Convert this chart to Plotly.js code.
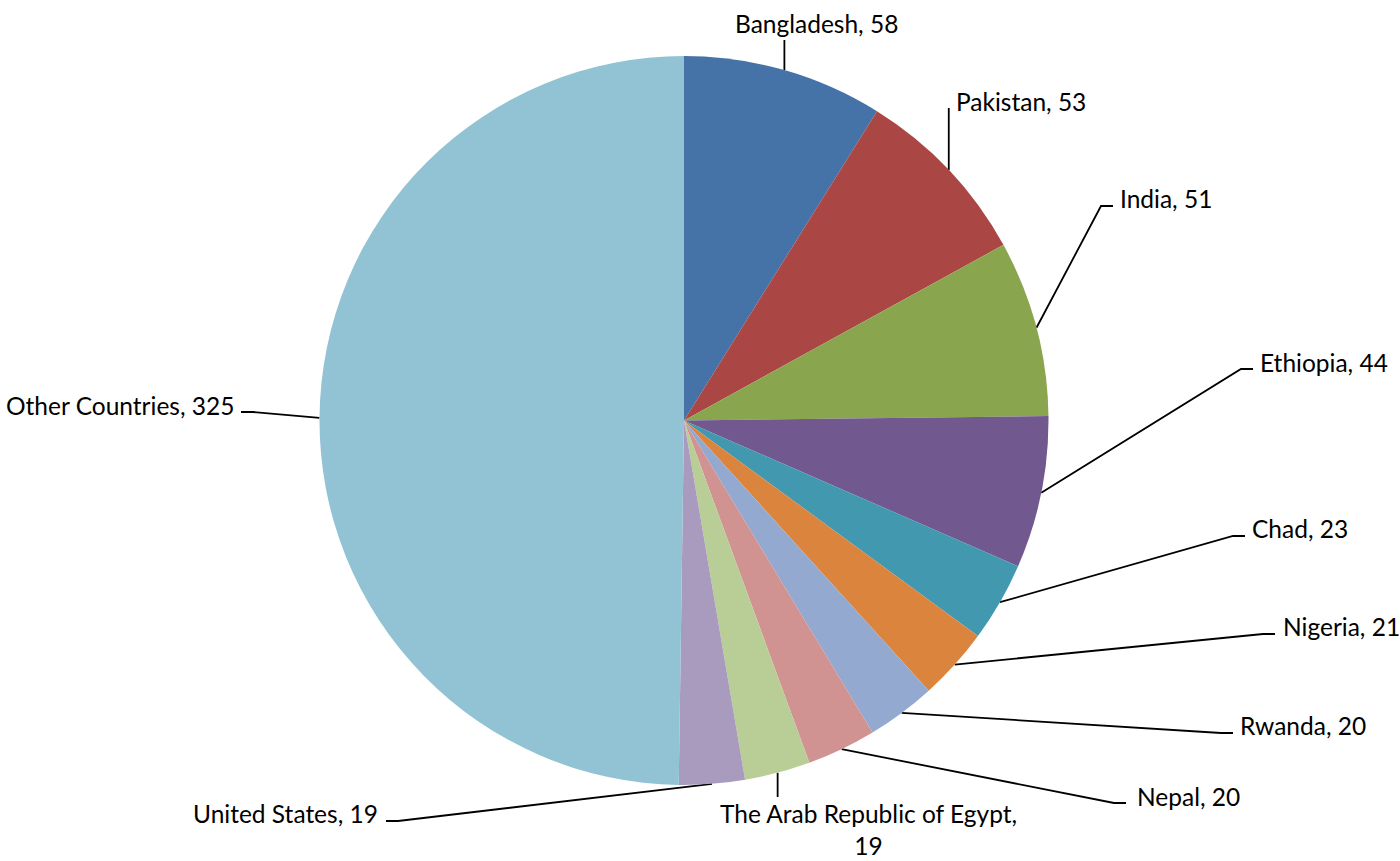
<!DOCTYPE html>
<html>
<head>
<meta charset="utf-8">
<script src="https://cdn.plot.ly/plotly-3.0.1.min.js"></script>
<style>html,body{margin:0;padding:0;background:#fff;}#chart{width:1400px;height:861px;}</style>
</head>
<body>
<div id="chart"></div>
<script>
// ---- data ----
const countries = ["Bangladesh", "Pakistan", "India", "Ethiopia", "Chad", "Nigeria", "Rwanda", "Nepal", "The Arab Republic of Egypt,", "United States", "Other Countries"];
const values = [58, 53, 51, 44, 23, 21, 20, 20, 19, 19, 325];
const colors = ["#4572A7", "#AA4643", "#89A54E", "#71588F", "#4198AF", "#DB843D", "#93A9CF", "#D19392", "#B9CD96", "#A99BBD", "#92C3D5"];

// ---- layout constants (pixels) ----
const W = 1400, H = 861;
const CX = 684, CY = 420.5, R = 364.5;
// label placement: [elbowX (null = straight from slice), elbowY, tail, textX, textY, xanchor, separator]
const labelLayout = [
  [null, 40, 0, 816, 23, 'center', ', '],
  [null, 108, 0, 954, 101, 'left', ', '],
  [1101, 206, 12, 1118, 198, 'left', ', '],
  [1241, 369, 12, 1258, 362, 'left', ', '],
  [1233, 536, 12, 1250, 528, 'left', ', '],
  [1263, 634, 12, 1281, 626, 'left', ', '],
  [1221, 733, 12, 1238, 725, 'left', ', '],
  [1114, 803, 12, 1135, 796, 'left', ', '],
  [null, 797, 0, 868, 829, 'center', '<br>'],
  [398, 821, -12, 380, 813, 'right', ', '],
  [253, 412, -12, 236, 405, 'right', ', ']
];

const total = values.reduce((a, b) => a + b, 0);
const traces = [];
traces.push({
  type: 'pie',
  labels: countries,
  values: values,
  sort: false,
  direction: 'clockwise',
  rotation: 0,
  textinfo: 'none',
  hoverinfo: 'label+value',
  marker: {colors: colors, line: {width: 0}},
  domain: {x: [(CX - R) / W, (CX + R) / W], y: [(H - CY - R) / H, (H - CY + R) / H]},
  showlegend: false
});

const annotations = [];
let cum = 0;
values.forEach((v, i) => {
  const a = (cum + v / 2) / total * 2 * Math.PI;
  cum += v;
  const px = CX + R * Math.sin(a), py = CY - R * Math.cos(a);
  const L = labelLayout[i];
  const ex = L[0] === null ? px : L[0];
  const xs = [px, ex], ys = [py, L[1]];
  if (L[2] !== 0) { xs.push(ex + L[2]); ys.push(L[1]); }
  traces.push({type: 'scatter', mode: 'lines', x: xs, y: ys, xaxis: 'x', yaxis: 'y',
    line: {color: '#000', width: 1.8}, hoverinfo: 'skip', showlegend: false});
  annotations.push({
    x: L[3], y: L[4], xref: 'x', yref: 'y', showarrow: false,
    xanchor: L[5], yanchor: 'middle', align: 'center',
    text: countries[i] + L[6] + values[i],
    font: {family: 'Lato, "Open Sans", sans-serif', size: 24.5, color: '#000'}
  });
});

const layout = {
  width: W, height: H,
  margin: {l: 0, r: 0, t: 0, b: 0},
  paper_bgcolor: '#fff', plot_bgcolor: 'rgba(0,0,0,0)',
  showlegend: false,
  xaxis: {range: [0, W], visible: false, fixedrange: true, domain: [0, 1]},
  yaxis: {range: [H, 0], visible: false, fixedrange: true, domain: [0, 1]},
  annotations: annotations
};

Plotly.newPlot('chart', traces, layout, {displayModeBar: false, staticPlot: true});
</script>
</body>
</html>
